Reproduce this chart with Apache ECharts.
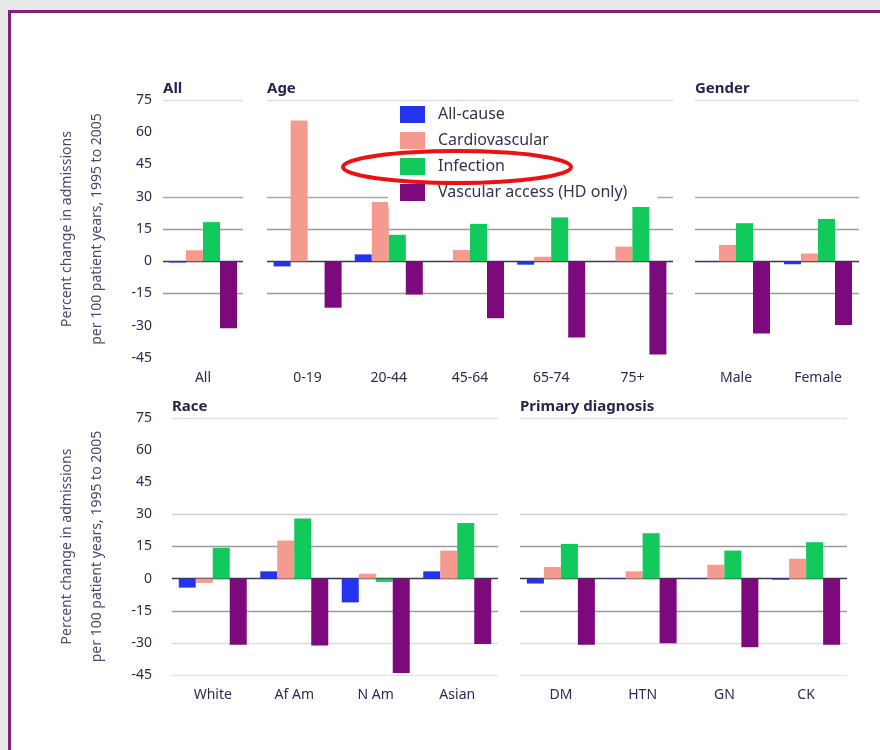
<!DOCTYPE html>
<html>
<head>
<meta charset="utf-8">
<script src="https://cdn.jsdelivr.net/npm/echarts@6/dist/echarts.min.js"></script>
<style>
  html, body { margin: 0; padding: 0; background: #e9e9ec; overflow: hidden; }
  #frame { position: absolute; left: 8px; top: 10px; width: 880px; height: 750px; background: #fff;
           border-left: 3px solid #80207f; border-top: 3px solid #80207f; }
  #main { position: absolute; left: 0; top: 0; width: 880px; height: 750px; }
</style>
</head>
<body>
<div id="frame"></div>
<div id="main"></div>
<script>
  // series (legend order)
  var seriesNames = ['All-cause', 'Cardiovascular', 'Infection', 'Vascular access (HD only)']
  var seriesColors = ['#2433ee', '#f59a8f', '#12c95c', '#7c0a7c']

  // y ticks, shared by all panels
  var yMin = -45
  var yMax = 75
  var yStep = 15

  // panel data: one row per series, one column per category
  var allCats = ['All']
  var allValues = [[-0.6], [5.1], [18.2], [-31.2]]

  var ageCats = ['0-19', '20-44', '45-64', '65-74', '75+']
  var ageValues = [
    [-2.4, 3.2, -0.3, -1.6, -0.3],
    [65.5, 27.6, 5.2, 2.1, 6.8],
    [0, 12.3, 17.4, 20.4, 27.6],
    [-21.6, -15.5, -26.5, -35.5, -43.4]
  ]

  var genderCats = ['Male', 'Female']
  var genderValues = [
    [-0.4, -1.4],
    [7.6, 3.6],
    [17.7, 19.7],
    [-33.6, -29.7]
  ]

  var raceCats = ['White', 'Af Am', 'N Am', 'Asian']
  var raceValues = [
    [-4.2, 3.4, -11.1, 3.4],
    [-2.0, 17.8, 2.3, 13.1],
    [14.4, 28.1, -1.5, 26.0],
    [-30.9, -31.2, -44.1, -30.5]
  ]

  var diagCats = ['DM', 'HTN', 'GN', 'CK']
  var diagValues = [
    [-2.3, -0.2, -0.2, -0.5],
    [5.4, 3.4, 6.5, 9.3],
    [16.2, 21.2, 13.1, 17.0],
    [-30.9, -30.2, -32.0, -30.9]
  ]

  var yTitle = 'Percent change in admissions\nper 100 patient years, 1995 to 2005'
  var textColor = '#2b2b55'
  var none = 'rgba(0,0,0,0)'
  // split line colours from -45 up to 75 (zero line is the dark one)
  var topLines = [none, none, '#9a9aa0', '#3a3a48', '#9a9aa0', '#a8a8ae', none, none, '#e0e0e4']
  var bottomLines = ['#e6e6ea', '#dcdce0', '#9a9aa0', '#3a3a48', '#9a9aa0', '#cfcfd4', none, none, '#e0e0e4']

  var panels = [
    { title: 'All', cats: allCats, values: allValues, left: 163, top: 100, width: 80, height: 258, lines: topLines, labels: true, labelMargin: 11, nameGap: 51 },
    { title: 'Age', cats: ageCats, values: ageValues, left: 267, top: 100, width: 406, height: 258, lines: topLines },
    { title: 'Gender', cats: genderCats, values: genderValues, left: 695, top: 100, width: 164, height: 258, lines: topLines },
    { title: 'Race', cats: raceCats, values: raceValues, left: 172, top: 418, width: 326, height: 257, lines: bottomLines, labels: true, labelMargin: 20, nameGap: 60 },
    { title: 'Primary diagnosis', cats: diagCats, values: diagValues, left: 520, top: 418, width: 327, height: 257, lines: bottomLines }
  ]

  var grid = [], xAxis = [], yAxis = [], series = [], title = []
  panels.forEach(function (p, i) {
    grid.push({ left: p.left, top: p.top, width: p.width, height: p.height })
    title.push({
      text: p.title,
      left: p.left,
      top: p.top - 19,
      padding: 0,
      textStyle: { fontFamily: 'Noto Sans', fontSize: 15, fontWeight: 'bold', color: '#25254f' }
    })
    xAxis.push({
      type: 'category',
      gridIndex: i,
      data: p.cats,
      position: 'bottom',
      axisLine: { show: false, onZero: false },
      axisTick: { show: false },
      axisLabel: { margin: 13, fontFamily: 'Noto Sans', fontSize: 14, color: textColor }
    })
    yAxis.push({
      type: 'value',
      gridIndex: i,
      min: yMin,
      max: yMax,
      interval: yStep,
      axisLine: { show: false },
      axisTick: { show: false },
      axisLabel: { show: !!p.labels, margin: p.labelMargin || 8, fontFamily: 'Noto Sans', fontSize: 14, color: textColor },
      splitLine: { show: true, lineStyle: { color: p.lines, width: 1.3 } },
      name: p.labels ? yTitle : '',
      nameLocation: 'middle',
      nameRotate: 90,
      nameGap: p.nameGap || 0,
      nameTextStyle: { fontFamily: 'Noto Sans', fontSize: 14, lineHeight: 30, color: '#4a4a6a' }
    })
    seriesNames.forEach(function (name, k) {
      series.push({
        name: name,
        type: 'bar',
        xAxisIndex: i,
        yAxisIndex: i,
        data: p.values[k],
        barWidth: 17,
        barGap: '0%',
        itemStyle: { color: seriesColors[k] },
        animation: false
      })
    })
  })

  var chart = echarts.init(document.getElementById('main'))
  chart.setOption({
    backgroundColor: 'transparent',
    animation: false,
    title: title,
    grid: grid,
    xAxis: xAxis,
    yAxis: yAxis,
    legend: {
      data: seriesNames,
      orient: 'vertical',
      left: 388,
      top: 102,
      padding: [4, 30, 6, 12],
      backgroundColor: '#fff',
      itemWidth: 25,
      itemHeight: 17,
      itemGap: 9,
      icon: 'rect',
      textStyle: { fontFamily: 'Noto Sans', fontSize: 16, color: '#333352', padding: [0, 0, 0, 8] }
    },
    graphic: [
      {
        type: 'ellipse',
        shape: { cx: 457, cy: 167, rx: 114, ry: 16 },
        style: { fill: 'none', stroke: '#ee1111', lineWidth: 4 },
        z: 100,
        silent: true
      }
    ],
    series: series
  })
</script>
</body>
</html>
